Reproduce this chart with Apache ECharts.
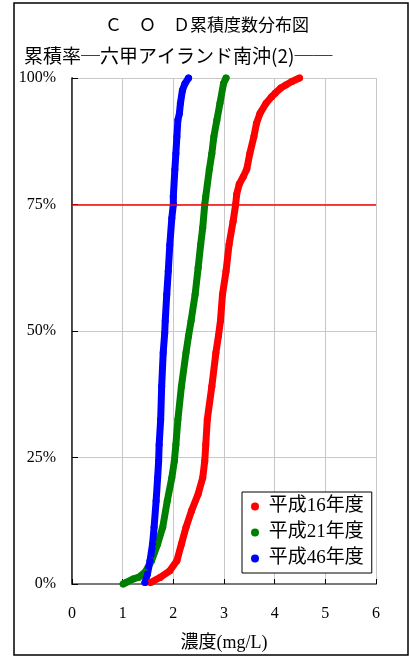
<html>
<head>
    <title>COD累積度数分布図</title>
    <meta http-equiv="Content-Type" content="text/html; charset=utf-8" />
    <style>body{margin:0;background:#fff;}</style>
</head>
<body>
<div id="chart" style="width: 409px;height: 657px"></div>
</body>
<script type="text/javascript" src="https://cdn.jsdelivr.net/npm/echarts@6/dist/echarts.min.js"></script>
<script type="text/javascript">
// 濃度(mg/L), 累積率(%)
var h16 = [[1.55,0.3],[1.74,1.3],[1.93,2.6],[2.07,4.6],[2.16,7.9],[2.25,11.2],[2.36,14.5],[2.49,17.8],
    [2.58,21],[2.62,24.3],[2.64,27.5],[2.67,32.5],[2.76,39.1],[2.84,45.7],[2.89,49],[2.93,52],[2.97,57.2],
    [3.04,61.8],[3.10,67.1],[3.18,71.7],[3.23,75],[3.25,77],[3.30,79],[3.38,80.5],[3.45,82],[3.51,85.1],
    [3.59,88.4],[3.64,91],[3.71,93],[3.83,95],[3.94,96.3],[4.01,97],[4.12,98],[4.22,98.6],[4.34,99.3],[4.49,100]];
var h21 = [[1.01,0],[1.07,0.3],[1.21,1.0],[1.31,1.3],[1.44,2.3],[1.57,4.6],[1.69,7.9],[1.79,11.2],[1.88,16.4],
    [1.97,21],[2.02,24.3],[2.05,27.5],[2.09,32.5],[2.16,39.1],[2.25,45.7],[2.30,49],[2.35,52],[2.43,57.2],
    [2.49,62.5],[2.54,67.1],[2.58,70.4],[2.62,75],[2.64,76.6],[2.71,81.9],[2.76,85.1],[2.80,88.4],[2.86,91.7],
    [2.92,95],[2.99,98.9],[3.04,100]];
var h46 = [[1.44,0.3],[1.49,2.0],[1.54,4.6],[1.59,7.9],[1.62,11.2],[1.66,16.4],[1.69,21],[1.71,24.3],[1.72,27.5],
    [1.75,32.5],[1.77,39.1],[1.80,45.7],[1.83,49.6],[1.84,52],[1.87,57.2],[1.90,61.8],[1.93,67],[1.97,72.3],
    [2.00,75],[2.00,76.6],[2.03,81.9],[2.05,85.1],[2.07,88.4],[2.09,91.7],[2.12,93],[2.14,95],[2.18,97.6],
    [2.23,98.9],[2.30,100]];
var seriesNames = ['平成16年度', '平成21年度', '平成46年度'];
var seriesColors = ['#ff0000', '#008000', '#0000ff'];
var lineAt = 75;

var font = "'Liberation Serif', 'Noto Sans CJK JP', serif";
var jpFont = "'Noto Sans CJK JP', serif";
var myChart = echarts.init(document.getElementById('chart'));

function curve(i, data) {
    return {
        name: seriesNames[i],
        type: 'line',
        data: data,
        symbol: 'circle',
        symbolSize: 7,
        showAllSymbol: true,
        itemStyle: {color: seriesColors[i]},
        lineStyle: {color: seriesColors[i], width: 7, cap: 'round', join: 'round'},
        animation: false,
        silent: true
    };
}

var s16 = curve(0, h16);
s16.markLine = {
    silent: true,
    symbol: 'none',
    label: {show: false},
    lineStyle: {color: '#ff0000', width: 1.5, type: 'solid'},
    data: [{yAxis: lineAt}]
};

option = {
    animation: false,
    title: [
        {
            text: 'Ｃ　Ｏ　Ｄ累積度数分布図',
            left: 100, top: 11,
            textStyle: {fontFamily: jpFont, fontSize: 17, fontWeight: 'normal', color: '#000'}
        },
        {
            text: '累積率─六甲アイランド南沖(2)──',
            left: 19, top: 41,
            textStyle: {fontFamily: jpFont, fontSize: 19, fontWeight: 'normal', color: '#000'}
        }
    ],
    graphic: [{
        type: 'rect',
        shape: {x: 14, y: 3, width: 394, height: 652},
        style: {fill: 'none', stroke: '#000', lineWidth: 1.5},
        silent: true
    }],
    grid: {left: 72, top: 78, right: 33, bottom: 72, containLabel: false},
    legend: {
        orient: 'vertical',
        left: 242, top: 492,
        data: seriesNames,
        icon: 'circle',
        itemWidth: 8, itemHeight: 8,
        itemGap: 7,
        padding: [5, 8, 5, 9],
        borderColor: '#000', borderWidth: 1,
        backgroundColor: '#fff',
        formatter: ' {name}',
        textStyle: {fontFamily: font, fontSize: 19, color: '#000'}
    },
    xAxis: [
        {
            type: 'value',
            min: 0, max: 6, interval: 1,
            name: '濃度(mg/L)',
            nameLocation: 'middle',
            nameGap: 50,
            nameTextStyle: {fontFamily: font, fontSize: 18, color: '#000'},
            axisLine: {onZero: false, lineStyle: {color: '#000', width: 1.5}},
            axisTick: {inside: true, length: 5, lineStyle: {color: '#000'}},
            axisLabel: {fontFamily: font, fontSize: 16, color: '#000', margin: 22},
            splitLine: {show: true, lineStyle: {color: '#c8c8c8', width: 1}}
        },
        {
            type: 'value', position: 'top',
            min: 0, max: 6, interval: 1,
            axisLine: {show: true, lineStyle: {color: '#909090', width: 1.5}},
            axisTick: {show: false}, axisLabel: {show: false}, splitLine: {show: false}
        }
    ],
    yAxis: [
        {
            type: 'value',
            min: 0, max: 100, interval: 25,
            axisLine: {show: true, onZero: false, lineStyle: {color: '#000', width: 1.5}},
            axisTick: {show: true, inside: true, length: 6, lineStyle: {color: '#000'}},
            axisLabel: {fontFamily: font, fontSize: 16, color: '#000', margin: 16, formatter: '{value}%'},
            splitLine: {show: true, lineStyle: {color: '#c8c8c8', width: 1}}
        },
        {
            type: 'value', position: 'right',
            min: 0, max: 100, interval: 25,
            axisLine: {show: true, lineStyle: {color: '#555', width: 1}},
            axisTick: {show: false}, axisLabel: {show: false}, splitLine: {show: false}
        }
    ],
    series: [s16, curve(1, h21), curve(2, h46)]
};
myChart.setOption(option);
</script>
</html>
